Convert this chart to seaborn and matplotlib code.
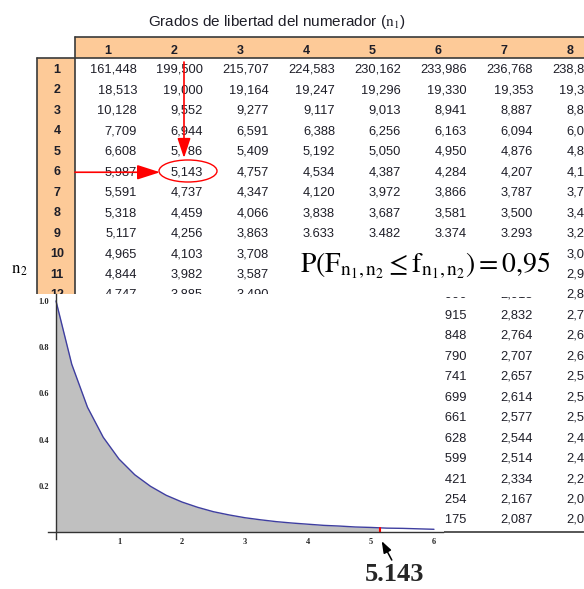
import numpy as np
import matplotlib
matplotlib.use("Agg")
import matplotlib.pyplot as plt
from matplotlib.patches import Rectangle, Ellipse
import seaborn as sns

sns.set_style("white")
plt.rcParams['font.family'] = ['Liberation Sans', 'DejaVu Sans']
plt.rcParams['mathtext.fontset'] = 'stix'

# ---- F table (alpha = 0.05), as printed ----
col_labels = ['1', '2', '3', '4', '5', '6', '7', '8']
row_labels = ['1', '2', '3', '4', '5', '6', '7', '8', '9', '10', '11', '12',
              '13', '14', '15', '16', '17', '18', '19', '20', '30', '60', '120']
rows_top = [
    ['161,448', '199,500', '215,707', '224,583', '230,162', '233,986', '236,768', '238,883'],
    ['18,513', '19,000', '19,164', '19,247', '19,296', '19,330', '19,353', '19,371'],
    ['10,128', '9,552', '9,277', '9,117', '9,013', '8,941', '8,887', '8,845'],
    ['7,709', '6,944', '6,591', '6,388', '6,256', '6,163', '6,094', '6,041'],
    ['6,608', '5,786', '5,409', '5,192', '5,050', '4,950', '4,876', '4,818'],
    ['5,987', '5,143', '4,757', '4,534', '4,387', '4,284', '4,207', '4,147'],
    ['5,591', '4,737', '4,347', '4,120', '3,972', '3,866', '3,787', '3,726'],
    ['5,318', '4,459', '4,066', '3,838', '3,687', '3,581', '3,500', '3,438'],
    ['5,117', '4,256', '3,863', '3.633', '3.482', '3.374', '3.293', '3,230'],
    ['4,965', '4,103', '3,708', '', '', '', '', '3,072'],
    ['4,844', '3,982', '3,587', '', '', '', '', '2,948'],
    ['4,747', '3,885', '3,490', '', '', '2,996', '2,913', '2,849'],
]
# only columns 6-8 are visible for n2 = 13 ... 120
col6_tail = ['2,915', '2,848', '2,790', '2,741', '2,699', '2,661', '2,628', '2,599', '2,421', '2,254', '2,175']
col7_tail = ['2,832', '2,764', '2,707', '2,657', '2,614', '2,577', '2,544', '2,514', '2,334', '2,167', '2,087']
col8_tail = ['2,767', '2,699', '2,641', '2,591', '2,548', '2,510', '2,477', '2,447', '2,266', '2,097', '2,016']

# ---- density of F(2,6) ----
pdf_x = [0, 0.25, 0.5, 0.75, 1.0, 1.25, 1.5, 1.75, 2.0, 2.25, 2.5, 2.75, 3.0,
         3.25, 3.5, 3.75, 4.0, 4.25, 4.5, 4.75, 5.0, 5.25, 5.5, 5.75, 6.0]
pdf_y = [1.0, 0.726, 0.540, 0.410, 0.316, 0.248, 0.198, 0.159, 0.130, 0.107, 0.088, 0.074, 0.062,
         0.053, 0.045, 0.039, 0.034, 0.029, 0.026, 0.022, 0.020, 0.017, 0.016, 0.014, 0.012]
f_crit = 5.143

W, H = 584, 589
fig = plt.figure(figsize=(W / 100, H / 100), dpi=100)

# table axes: x in column units (0 = left edge of column 1), y in row units
col_w, row_h = 66, 20.45
x0_px, y0_px = 75, 70
tab = fig.add_axes([0, 0, 1, 1])
tab.set_xlim(-x0_px / col_w, (W - x0_px) / col_w)
tab.set_ylim(1 + (H - y0_px) / row_h, 1 - y0_px / row_h)
tab.axis('off')


def cx(px):
    return (px - x0_px) / col_w


def ry(py):
    return 1 + (py - y0_px) / row_h


orange = '#fdca98'
edge = '#3a3a3a'
txt = '#1e1e28'

# header band and label column
tab.add_patch(Rectangle((0, ry(37)), 9, ry(58) - ry(37), facecolor=orange, edgecolor='none', zorder=1))
tab.add_patch(Rectangle((cx(37), ry(58)), -cx(37), 30, facecolor=orange, edgecolor='none', zorder=1))
tab.plot([0, 9], [ry(37), ry(37)], color=edge, lw=1.2, zorder=2)
tab.plot([cx(37), 9], [ry(58), ry(58)], color=edge, lw=1.2, zorder=2)
tab.plot([0, 0], [ry(37), 30], color=edge, lw=1.2, zorder=2)
tab.plot([cx(37), cx(37)], [ry(58), 30], color=edge, lw=1.2, zorder=2)
tab.plot([cx(37), 9], [ry(532), ry(532)], color=edge, lw=1.2, zorder=2)

for k, lab in enumerate(col_labels):
    tab.text(k + 0.5, ry(50.5), lab, ha='center', va='center', fontsize=9,
             fontweight='bold', color=txt, zorder=3)
for i, lab in enumerate(row_labels):
    tab.text(cx(57), i + 1, lab, ha='center', va='center', fontsize=9,
             fontweight='bold', color=txt, zorder=3)
for i, row in enumerate(rows_top):
    for k, v in enumerate(row):
        tab.text(k + 1 - 0.06, i + 1, v, ha='right', va='center', fontsize=9.3, color=txt, zorder=3)
for j, vals in enumerate(zip(col6_tail, col7_tail, col8_tail)):
    for k, v in zip([6, 7, 8], vals):
        tab.text(k - 0.06, 13 + j, v, ha='right', va='center', fontsize=9.3, color=txt, zorder=3)

tab.text(cx(277), ry(22), r'Grados de libertad del numerador ($\mathrm{n}_1$)',
         ha='center', va='center', fontsize=11, color=txt)
tab.text(cx(20), ry(271), r'$\mathrm{n}_{\,2}$', ha='center', va='center', fontsize=12, color='black')

# red marks pointing at 5,143
tab.annotate('', xy=(cx(184), ry(158)), xytext=(cx(184), ry(62)),
             arrowprops=dict(arrowstyle='-|>,head_length=1.2,head_width=0.4', color='red', lw=1.2,
                             shrinkA=0, shrinkB=0), zorder=4)
tab.annotate('', xy=(cx(160), 6), xytext=(0, 6),
             arrowprops=dict(arrowstyle='-|>,head_length=1.4,head_width=0.45', color='red', lw=1.2,
                             shrinkA=0, shrinkB=0), zorder=4)
tab.add_patch(Ellipse((cx(188), ry(171)), 58 / col_w, 22 / row_h, fill=False, edgecolor='red', lw=1, zorder=4))

# probability statement pasted over the table
tab.add_patch(Rectangle((cx(280), ry(244)), cx(557) - cx(280), ry(297) - ry(244),
                        facecolor='white', edgecolor='none', zorder=5))
tab.text(cx(425), ry(266),
         r'$\mathrm{P}\left(\mathrm{F}_{\mathrm{n}_1,\mathrm{n}_2}\leq\mathrm{f}_{\mathrm{n}_1,\mathrm{n}_2}\right)=0{,}95$',
         ha='center', va='center', fontsize=20, color='black', zorder=6)

# white area behind the density plot
tab.add_patch(Rectangle((cx(-10), ry(294)), cx(444) - cx(-10), 40, facecolor='white', edgecolor='none', zorder=7))

# ---- density plot ----
ax = fig.add_axes([48 / W, 1 - 539 / H, 395 / W, 245 / H])
ax.set_facecolor('none')
x_fill = np.append([v for v in pdf_x if v < f_crit], f_crit)
y_fill = np.interp(x_fill, pdf_x, pdf_y)
ax.fill_between(x_fill, 0, y_fill, color='#c0c0c0', lw=0)
sns.lineplot(x=pdf_x, y=pdf_y, ax=ax, color='#3e3ea0', linewidth=1.0)
ax.plot([f_crit, f_crit], [0, y_fill[-1]], color='red', lw=1.5)

ax.set_xlim(-0.127, 6.143)
ax.set_ylim(-0.03, 1.03)
for s in ['top', 'right']:
    ax.spines[s].set_visible(False)
for s in ['left', 'bottom']:
    ax.spines[s].set_position(('data', 0))
    ax.spines[s].set_color('#333333')
    ax.spines[s].set_linewidth(1.0)

ax.set_xticks([1, 2, 3, 4, 5, 6])
ax.set_xticks(np.arange(0.2, 6.01, 0.2), minor=True)
ax.set_yticks([0.2, 0.4, 0.6, 0.8, 1.0])
ax.set_yticks(np.arange(0.05, 1.01, 0.05), minor=True)
ax.set_xticklabels(['1', '2', '3', '4', '5', '6'])
ax.set_yticklabels(['0.2', '0.4', '0.6', '0.8', '1.0'])
ax.tick_params(which='both', direction='in', color='#333333', width=0.8)
ax.tick_params(which='major', length=4)
ax.tick_params(which='minor', length=2.5)
ax.tick_params(axis='x', pad=4)
ax.tick_params(axis='y', pad=5)
for t in ax.get_xticklabels() + ax.get_yticklabels():
    t.set_fontsize(6)
    t.set_fontfamily('Liberation Serif')
    t.set_fontweight('bold')
ax.set_xlabel('')
ax.set_ylabel('')

# label of the critical value and its pointer
ax.text(5.37, -0.182, '5.143', ha='center', va='center', fontsize=19, fontweight='bold',
        family='Liberation Serif', clip_on=False)
ax.annotate('', xy=(5.17, -0.039), xytext=(5.33, -0.121), annotation_clip=False,
            arrowprops=dict(arrowstyle='-|>,head_length=0.7,head_width=0.25', color='black', lw=1.1,
                            shrinkA=0, shrinkB=0))

fig.savefig('out.png', dpi=100)
